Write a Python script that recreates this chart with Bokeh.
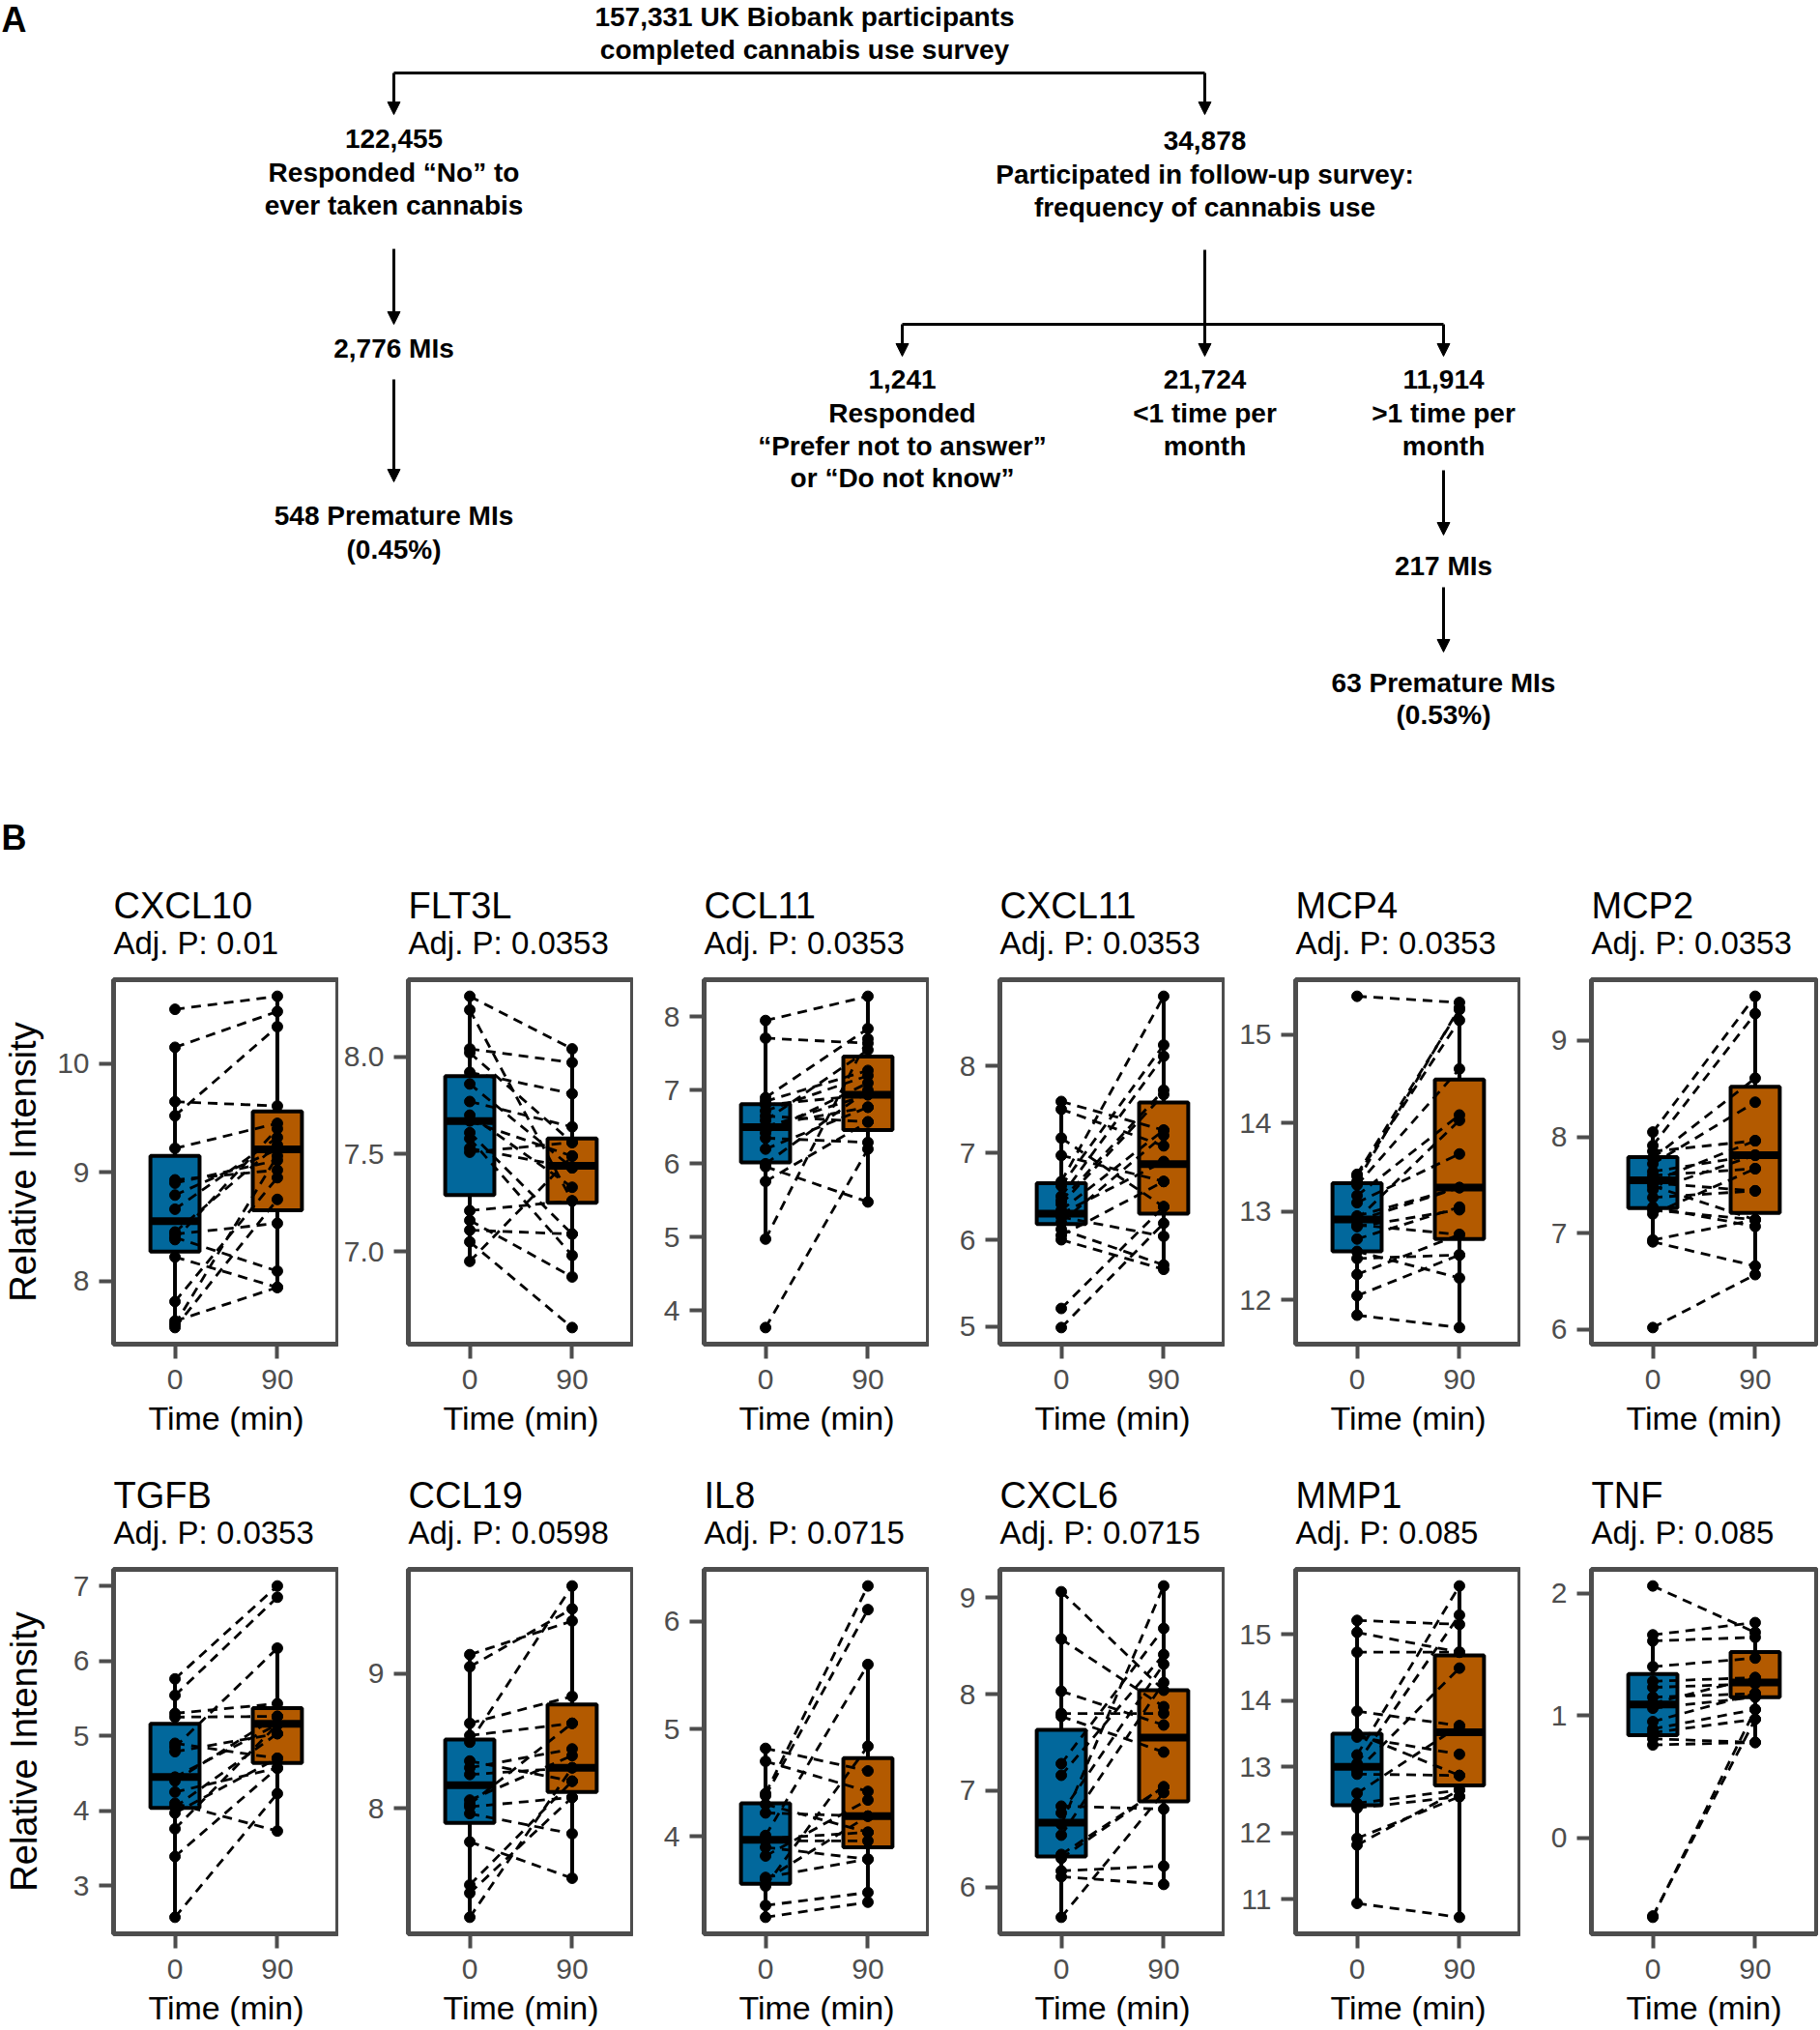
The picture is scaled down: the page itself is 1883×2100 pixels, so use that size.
import numpy as np
from bokeh.plotting import figure
from bokeh.layouts import column, row
from bokeh.models import Range1d, FixedTicker, Title, Arrow, NormalHead, PrintfTickFormatter
from bokeh.embed import file_html
from bokeh.resources import INLINE
from bokeh.core.properties import value

FONT = "Liberation Sans"

# ---------------- Panel A data (flowchart text) ----------------
FLOW_TEXT = [
    "157,331 UK Biobank participants", "completed cannabis use survey",
    "122,455", "Responded \u201cNo\u201d to", "ever taken cannabis",
    "2,776 MIs", "548 Premature MIs", "(0.45%)",
    "34,878", "Participated in follow-up survey:", "frequency of cannabis use",
    "1,241", "Responded", "\u201cPrefer not to answer\u201d", "or \u201cDo not know\u201d",
    "21,724", "<1 time per", "month",
    "11,914", ">1 time per", "month",
    "217 MIs", "63 Premature MIs", "(0.53%)",
]

# ---------------- Panel B data ----------------
GENES = ["CXCL10", "FLT3L", "CCL11", "CXCL11", "MCP4", "MCP2",
         "TGFB", "CCL19", "IL8", "CXCL6", "MMP1", "TNF"]
ADJ_P = ["0.01", "0.0353", "0.0353", "0.0353", "0.0353", "0.0353",
         "0.0353", "0.0598", "0.0715", "0.0715", "0.085", "0.085"]
TIME_LABELS = ["0", "90"]

CXCL10_T0 = [10.50, 10.15, 9.65, 9.52, 9.22, 8.93, 8.90, 8.79, 8.66, 8.43, 8.40, 8.38, 8.22, 7.81, 7.63, 7.57, 7.60, 8.45]
CXCL10_T90 = [10.62, 10.48, 9.61, 10.34, 9.45, 9.02, 9.11, 9.21, 9.32, 8.53, 8.09, 9.40, 7.94, 8.95, 7.94, 8.75, 9.15, 9.25]
FLT3L_T0 = [8.31, 8.24, 8.04, 8.02, 7.92, 7.86, 7.77, 7.70, 7.67, 7.61, 7.53, 7.51, 7.21, 7.16, 7.11, 7.05, 6.95, 7.58]
FLT3L_T90 = [8.04, 7.26, 7.97, 7.56, 7.81, 7.43, 7.64, 7.33, 7.49, 7.09, 7.43, 7.56, 7.26, 6.87, 7.09, 6.61, 7.49, 6.98]
CCL11_T0 = [7.95, 7.71, 6.90, 6.85, 6.80, 6.72, 6.65, 6.59, 6.52, 6.50, 6.42, 6.35, 6.20, 6.00, 5.96, 5.76, 4.975, 3.77]
CCL11_T90 = [8.28, 7.64, 7.84, 7.27, 6.94, 7.20, 6.57, 7.55, 6.77, 6.94, 7.10, 6.29, 6.77, 7.00, 5.48, 6.57, 7.70, 6.20]
CXCL11_T0 = [7.59, 7.50, 7.17, 6.97, 6.67, 6.62, 6.50, 6.45, 6.41, 6.34, 6.30, 6.26, 6.20, 6.12, 6.00, 6.05, 5.21, 4.99]
CXCL11_T90 = [7.26, 7.08, 6.38, 6.67, 8.80, 8.24, 8.11, 7.72, 7.67, 7.26, 6.90, 6.04, 7.20, 5.71, 5.66, 6.67, 6.38, 6.19]
MCP4_T0 = [15.43, 13.42, 13.40, 13.34, 13.30, 13.18, 13.10, 12.95, 12.91, 12.85, 12.83, 12.69, 12.55, 12.47, 12.29, 12.05, 11.83, 12.90]
MCP4_T90 = [15.36, 15.28, 15.16, 15.30, 14.61, 14.09, 13.65, 13.27, 14.03, 12.74, 13.02, 13.05, 12.25, 12.51, 12.74, 12.51, 11.69, 13.27]
MCP2_T0 = [8.05, 7.91, 7.85, 7.78, 7.72, 7.64, 7.60, 7.54, 7.52, 7.49, 7.45, 7.37, 7.27, 7.24, 7.20, 6.91, 6.93, 6.02]
MCP2_T90 = [9.46, 9.28, 7.96, 8.61, 8.36, 7.81, 7.67, 7.96, 7.44, 7.14, 7.81, 7.44, 7.07, 7.14, 7.67, 6.66, 7.14, 6.57]
TGFB_T0 = [5.76, 5.54, 5.30, 5.25, 4.90, 4.79, 4.45, 4.40, 4.25, 4.10, 4.05, 3.97, 3.76, 3.39, 2.58, 4.85]
TGFB_T90 = [7.00, 6.85, 5.43, 5.26, 4.70, 5.03, 5.15, 5.26, 4.57, 3.73, 5.03, 4.70, 5.15, 4.57, 4.23, 6.17]
CCL19_T0 = [9.14, 9.05, 8.63, 8.54, 8.49, 8.35, 8.30, 8.25, 8.06, 8.01, 7.96, 7.75, 7.43, 7.37, 7.19, 8.03]
CCL19_T90 = [9.39, 9.48, 8.83, 8.63, 9.65, 8.20, 8.44, 8.30, 8.39, 8.08, 7.81, 7.48, 8.20, 8.08, 8.30, 8.63]
IL8_T0 = [4.82, 4.70, 4.40, 4.38, 4.22, 4.01, 3.96, 3.98, 3.82, 3.62, 3.60, 3.54, 3.36, 3.25, 4.30, 3.90]
IL8_T90 = [4.61, 4.42, 6.33, 6.11, 4.19, 5.60, 3.96, 4.04, 4.34, 3.79, 4.19, 4.84, 3.48, 3.39, 4.04, 3.79]
CXCL6_T0 = [9.06, 8.57, 8.03, 7.80, 7.77, 7.28, 7.16, 6.84, 6.77, 6.54, 6.34, 6.17, 6.11, 5.69, 6.65, 6.30]
CXCL6_T90 = [8.04, 7.87, 7.68, 7.80, 7.40, 8.68, 8.41, 6.81, 8.31, 8.12, 7.04, 6.22, 6.03, 6.98, 9.12, 7.04]
MMP1_T0 = [15.21, 15.03, 14.73, 13.84, 13.45, 13.18, 12.94, 12.89, 12.45, 12.38, 11.92, 11.82, 10.94, 13.05, 12.60, 13.50]
MMP1_T90 = [15.15, 14.73, 14.73, 13.62, 13.19, 15.73, 14.49, 12.87, 12.65, 12.55, 12.55, 12.65, 10.73, 15.29, 13.62, 12.87]
TNF_T0 = [2.06, 1.66, 1.61, 1.40, 1.28, 1.23, 1.15, 1.06, 0.89, 0.86, 0.81, 0.76, -0.65, -0.64, 1.10, 0.95]
TNF_T90 = [1.68, 1.76, 1.64, 1.47, 1.31, 1.26, 1.18, 1.15, 1.05, 0.97, 0.78, 0.78, 1.05, 0.97, 1.31, 1.18]

# box statistics [lower whisker, Q1, median, Q3, upper whisker]
CXCL10_BOX0 = [7.57, 8.27, 8.55, 9.15, 10.15]
CXCL10_BOX90 = [7.94, 8.65, 9.21, 9.56, 10.62]
FLT3L_BOX0 = [6.95, 7.29, 7.67, 7.90, 8.31]
FLT3L_BOX90 = [6.87, 7.25, 7.44, 7.58, 8.04]
CCL11_BOX0 = [4.975, 6.02, 6.50, 6.81, 7.95]
CCL11_BOX90 = [5.48, 6.46, 6.94, 7.46, 8.28]
CXCL11_BOX0 = [6.00, 6.18, 6.30, 6.65, 7.59]
CXCL11_BOX90 = [5.66, 6.30, 6.87, 7.58, 8.80]
MCP4_BOX0 = [11.83, 12.55, 12.91, 13.32, 13.42]
MCP4_BOX90 = [11.69, 12.69, 13.27, 14.49, 15.36]
MCP2_BOX0 = [6.91, 7.26, 7.55, 7.79, 8.05]
MCP2_BOX90 = [6.57, 7.21, 7.81, 8.52, 9.46]
TGFB_BOX0 = [2.58, 4.04, 4.45, 5.16, 5.76]
TGFB_BOX90 = [3.73, 4.64, 5.16, 5.37, 6.17]
CCL19_BOX0 = [7.19, 7.89, 8.17, 8.51, 9.14]
CCL19_BOX90 = [7.48, 8.12, 8.30, 8.77, 9.65]
IL8_BOX0 = [3.25, 3.56, 3.97, 4.31, 4.82]
IL8_BOX90 = [3.39, 3.90, 4.19, 4.73, 5.60]
CXCL6_BOX0 = [5.69, 6.32, 6.67, 7.63, 9.06]
CXCL6_BOX90 = [6.03, 6.89, 7.55, 8.04, 9.12]
MMP1_BOX0 = [10.94, 12.42, 13.00, 13.50, 15.21]
MMP1_BOX90 = [10.73, 12.72, 13.52, 14.68, 15.73]
TNF_BOX0 = [0.76, 0.84, 1.09, 1.34, 1.66]
TNF_BOX90 = [0.78, 1.15, 1.27, 1.52, 1.76]

CXCL10_TICKS = [8, 9, 10]
FLT3L_TICKS = [7.0, 7.5, 8.0]
CCL11_TICKS = [4, 5, 6, 7, 8]
CXCL11_TICKS = [5, 6, 7, 8]
MCP4_TICKS = [12, 13, 14, 15]
MCP2_TICKS = [6, 7, 8, 9]
TGFB_TICKS = [3, 4, 5, 6, 7]
CCL19_TICKS = [8, 9]
IL8_TICKS = [4, 5, 6]
CXCL6_TICKS = [6, 7, 8, 9]
MMP1_TICKS = [11, 12, 13, 14, 15]
TNF_TICKS = [0, 1, 2]

PANELS = [
    (CXCL10_T0, CXCL10_T90, CXCL10_BOX0, CXCL10_BOX90, CXCL10_TICKS),
    (FLT3L_T0, FLT3L_T90, FLT3L_BOX0, FLT3L_BOX90, FLT3L_TICKS),
    (CCL11_T0, CCL11_T90, CCL11_BOX0, CCL11_BOX90, CCL11_TICKS),
    (CXCL11_T0, CXCL11_T90, CXCL11_BOX0, CXCL11_BOX90, CXCL11_TICKS),
    (MCP4_T0, MCP4_T90, MCP4_BOX0, MCP4_BOX90, MCP4_TICKS),
    (MCP2_T0, MCP2_T90, MCP2_BOX0, MCP2_BOX90, MCP2_TICKS),
    (TGFB_T0, TGFB_T90, TGFB_BOX0, TGFB_BOX90, TGFB_TICKS),
    (CCL19_T0, CCL19_T90, CCL19_BOX0, CCL19_BOX90, CCL19_TICKS),
    (IL8_T0, IL8_T90, IL8_BOX0, IL8_BOX90, IL8_TICKS),
    (CXCL6_T0, CXCL6_T90, CXCL6_BOX0, CXCL6_BOX90, CXCL6_TICKS),
    (MMP1_T0, MMP1_T90, MMP1_BOX0, MMP1_BOX90, MMP1_TICKS),
    (TNF_T0, TNF_T90, TNF_BOX0, TNF_BOX90, TNF_TICKS),
]

BLUE = "#02689C"
ORANGE = "#B35A00"
GREY = "#4d4d4d"

# ---------------- Panel A (flowchart) ----------------
FLOW_W, FLOW_H = 1881, 898
flow = figure(width=FLOW_W, height=FLOW_H, x_range=Range1d(0, FLOW_W),
              y_range=Range1d(FLOW_H, 0), x_axis_type=None, y_axis_type=None,
              output_backend="svg", toolbar_location=None, min_border=0,
              outline_line_color=None)
flow.xgrid.visible = False
flow.ygrid.visible = False

X_L, X_R, X_C1, X_C3 = 407, 1246, 933, 1493
TXT_X = [832, 832, X_L, X_L, X_L, X_L, X_L, X_L,
         X_R, X_R, X_R,
         X_C1, X_C1, X_C1, X_C1, X_R, X_R, X_R, X_C3, X_C3, X_C3,
         X_C3, X_C3, X_C3]
TXT_Y = [17, 51, 143, 178, 212, 360, 533, 568,
         145, 180, 214,
         392, 427, 461, 494, 392, 427, 461, 392, 427, 461,
         585, 706, 739]
flow.text(x=TXT_X, y=TXT_Y, text=FLOW_TEXT, text_align="center", text_baseline="middle",
          text_font=value(FONT), text_font_style="bold", text_font_size="28px",
          text_color="black")
flow.text(x=[1, 1], y=[20, 866], text=["A", "B"], text_align="left", text_baseline="middle",
          text_font=value(FONT), text_font_style="bold", text_font_size="36px",
          text_color="black")

flow.segment(x0=[X_L, X_C1], y0=[75, 335], x1=[X_R, X_C3], y1=[75, 335],
             line_color="black", line_width=3)
ARROWS = [(X_L, 75, X_L, 118), (X_R, 75, X_R, 118),
          (X_L, 257, X_L, 335), (X_L, 392, X_L, 498),
          (X_R, 258, X_R, 368), (X_C1, 335, X_C1, 368), (X_C3, 335, X_C3, 368),
          (X_C3, 486, X_C3, 553), (X_C3, 607, X_C3, 674)]
for (xa, ya, xb, yb) in ARROWS:
    flow.add_layout(Arrow(end=NormalHead(size=13, fill_color="black", line_color="black", line_width=1),
                          x_start=xa, y_start=ya, x_end=xb, y_end=yb,
                          line_color="black", line_width=3))


# ---------------- Panel B ----------------
def style_axis(ax):
    ax.axis_line_color = None
    ax.major_tick_line_color = GREY
    ax.major_tick_line_width = 4
    ax.major_tick_out = 15
    ax.major_tick_in = 0
    ax.minor_tick_line_color = None
    ax.major_label_text_font = FONT
    ax.major_label_text_font_size = "30px"
    ax.major_label_text_color = GREY
    ax.axis_label_text_font = FONT
    ax.axis_label_text_font_style = "normal"
    ax.axis_label_text_color = "black"


LEFT_BORDERS = [117, 72, 73, 73, 73, 73]


def make_panel(idx):
    t0, t90, b0, b90, ticks = PANELS[idx]
    col = idx % 6
    rw = idx // 6
    allv = list(t0) + list(t90)
    lo, hi = min(allv), max(allv)
    pad = 0.05 * (hi - lo)
    lb = LEFT_BORDERS[col]
    rb = 2 if col == 5 else 0
    tb = 115 if rw == 0 else 134
    p = figure(frame_width=233, frame_height=377,
               x_range=Range1d(0.4, 2.6), y_range=Range1d(lo - pad, hi + pad),
               output_backend="svg", toolbar_location=None, title=None,
               min_border_left=lb, min_border_right=rb, min_border_top=tb,
               min_border_bottom=99)
    p.xgrid.visible = False
    p.ygrid.visible = False
    p.outline_line_color = GREY
    p.outline_line_width = 5
    p.background_fill_color = "white"
    p.border_fill_color = "white"

    p.add_layout(Title(text="Adj. P: " + ADJ_P[idx], text_font=FONT, text_font_size="33px",
                       text_font_style="normal", text_color="black", align="left",
                       standoff=40, offset=0), "above")
    p.add_layout(Title(text=GENES[idx], text_font=FONT, text_font_size="38px",
                       text_font_style="normal", text_color="black", align="left",
                       standoff=-46, offset=0), "above")

    xs = [1, 2]
    boxes = [b0, b90]
    cols = [BLUE, ORANGE]
    hw = 0.24
    for x, b, c in zip(xs, boxes, cols):
        p.segment(x0=[x, x], y0=[b[3], b[1]], x1=[x, x], y1=[b[4], b[0]],
                  line_color="black", line_width=4)
        p.quad(left=[x - hw], right=[x + hw], bottom=[b[1]], top=[b[3]],
               fill_color=c, line_color="black", line_width=4)
        p.segment(x0=[x - hw], y0=[b[2]], x1=[x + hw], y1=[b[2]],
                  line_color="black", line_width=8)

    n = len(t0)
    p.segment(x0=[1] * n, y0=t0, x1=[2] * n, y1=t90, line_color="black",
              line_width=2.8, line_dash="10 7")
    p.scatter(x=[1] * n + [2] * n, y=list(t0) + list(t90), size=11,
              fill_color="black", line_color="black")

    p.xaxis.ticker = FixedTicker(ticks=[1, 2])
    p.xaxis.major_label_overrides = {1: TIME_LABELS[0], 2: TIME_LABELS[1]}
    p.xaxis.axis_label = "Time (min)"
    p.yaxis.ticker = FixedTicker(ticks=ticks)
    if any(abs(t - round(t)) > 1e-9 for t in ticks):
        p.yaxis.formatter = PrintfTickFormatter(format="%.1f")
    for ax in p.axis:
        style_axis(ax)
    p.xaxis.major_label_standoff = 11
    p.xaxis.axis_label_standoff = 8
    p.xaxis.axis_label_text_font_size = "34px"
    p.yaxis.major_label_standoff = 10
    if col == 0:
        p.yaxis.axis_label = "Relative Intensity"
        p.yaxis.axis_label_text_font_size = "38px"
        max_chars = max(len(str(int(t))) for t in ticks)
        p.yaxis.axis_label_standoff = 11 if max_chars == 2 else 27
    return p


row1 = row(*[make_panel(i) for i in range(6)], spacing=0)
row2 = row(*[make_panel(i) for i in range(6, 12)], spacing=0)
layout = column(flow, row1, row2, spacing=0)

open("out.html", "w").write(file_html(layout, INLINE))
